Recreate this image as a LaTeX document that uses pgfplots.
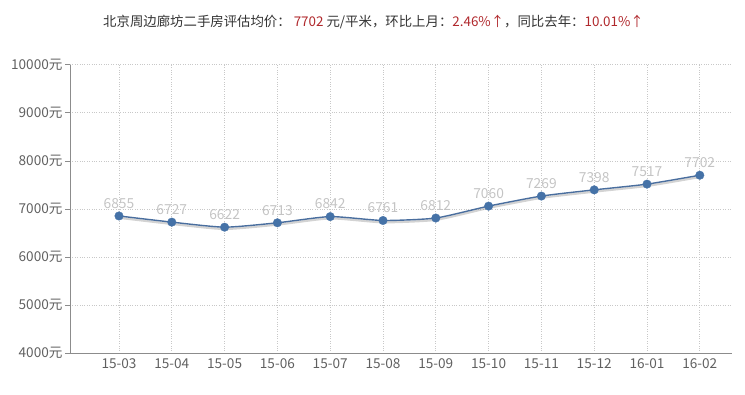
\documentclass[border=0pt]{standalone}
\usepackage{pgfplots}
\pgfplotsset{compat=1.18}
\usepackage{fontspec}
\setmainfont{Noto Sans CJK SC}
\definecolor{ln}{HTML}{4A6E9E}
\definecolor{mk}{HTML}{4572A7}
\definecolor{lbl}{HTML}{C4C4C4}
\definecolor{tk}{HTML}{606060}
\definecolor{ax}{HTML}{8C8C8C}
\definecolor{gr}{HTML}{C8C8C8}
\definecolor{rd}{HTML}{B0282C}
\definecolor{tt}{HTML}{333333}
\begin{document}
\begin{tikzpicture}[x=1pt,y=1pt]
\path[use as bounding box] (0,0) rectangle (745,395);
\node[anchor=west, inner sep=0pt, font=\fontsize{13.4}{15}\selectfont, text=tt] at (103,373)
 {北京周边廊坊二手房评估均价： \textcolor{rd}{7702} 元/平米，环比上月：\textcolor{rd}{2.46\%↑}，同比去年：\textcolor{rd}{10.01\%↑}};
\begin{axis}[
  at={(70pt,41.7pt)}, anchor=south west,
  scale only axis, width=662pt, height=288.6pt,
  xmin=-0.928, xmax=11.61, ymin=4000, ymax=10000,
  scaled y ticks=false,
  axis x line*=bottom, axis y line*=left,
  axis line style={draw=ax, line width=0.8pt},
  xtick={0,...,11},
  xticklabels={15-03,15-04,15-05,15-06,15-07,15-08,15-09,15-10,15-11,15-12,16-01,16-02},
  ytick={4000,5000,...,10000},
  yticklabels={4000元,5000元,6000元,7000元,8000元,9000元,10000元},
  x tick style={draw=none},
  y tick style={draw=ax, line width=0.6pt},
  tick align=outside, major tick length=5pt,
  ticklabel style={font=\fontsize{13.6}{15}\selectfont, text=tk},
  xticklabel style={yshift=3pt},
  yticklabel style={xshift=1pt},
  xmajorgrids, ymajorgrids,
  grid style={draw=gr, dotted, line width=0.7pt},
  clip=false,
]
\addplot[draw=gray, opacity=0.35, line width=2.2pt, smooth, tension=0.35, yshift=-1.8pt, forget plot] coordinates {
(0,6855)(1,6727)(2,6622)(3,6713)(4,6842)(5,6761)(6,6812)(7,7060)(8,7269)(9,7398)(10,7517)(11,7702)};
\addplot[draw=ln, line width=1.4pt, smooth, tension=0.35,
  mark=*, mark size=4.3pt, mark options={fill=mk, draw=mk, line width=0.3pt, solid},
  point meta=explicit symbolic, nodes near coords,
  nodes near coords style={font=\fontsize{13.8}{15}\selectfont, text=lbl, anchor=south, yshift=4pt}]
 coordinates {
(0,6855)[6855](1,6727)[6727](2,6622)[6622](3,6713)[6713](4,6842)[6842](5,6761)[6761](6,6812)[6812](7,7060)[7060](8,7269)[7269](9,7398)[7398](10,7517)[7517](11,7702)[7702]};
\end{axis}
\end{tikzpicture}
\end{document}
